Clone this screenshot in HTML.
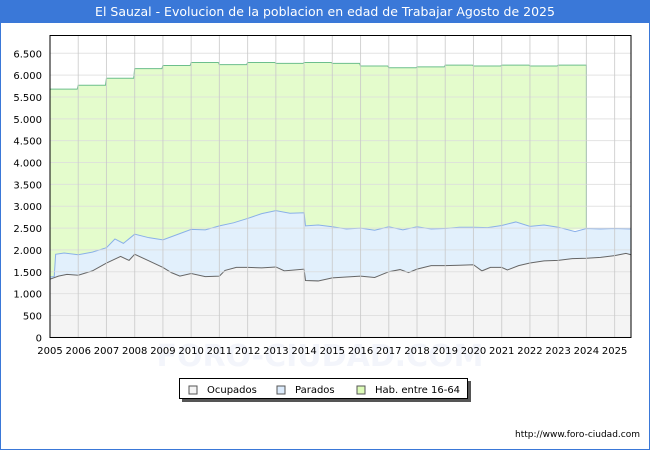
<!DOCTYPE html>
<html><head><meta charset="utf-8"><style>
body{margin:0;width:650px;height:450px;overflow:hidden;background:#fff;font-family:"Liberation Sans","DejaVu Sans",sans-serif}
</style></head><body>
<svg id="c" width="650" height="450" xmlns="http://www.w3.org/2000/svg" font-family="DejaVu Sans, Liberation Sans, sans-serif">
<rect x="0.5" y="0.5" width="649" height="449" fill="#fff" stroke="#3a78d8"/>
<rect x="0" y="0" width="650" height="23" fill="#3a78d8"/>
<text x="325" y="16" text-anchor="middle" fill="#fff" font-size="12.5">El Sauzal - Evolucion de la poblacion en edad de Trabajar Agosto de 2025</text>
<text x="320" y="366" text-anchor="middle" fill="#f3f5fb" font-size="30" font-weight="bold">FORO-CIUDAD.COM</text>
<g id="series"></g>
<g id="grid"></g>
<rect x="50" y="35.5" width="581" height="302" fill="none" stroke="#000"/>
<g id="axes" font-size="10" fill="#000"></g>
<g>
<rect x="182" y="381" width="289" height="21" fill="#555"/>
<rect x="179.5" y="378.5" width="288" height="20" fill="#fff" stroke="#000"/>
<rect x="189" y="386" width="8" height="8" fill="#f4f4f4" stroke="#555"/>
<text x="207" y="393" font-size="10">Ocupados</text>
<rect x="277" y="386" width="8" height="8" fill="#dcebfc" stroke="#555"/>
<text x="295" y="393" font-size="10">Parados</text>
<rect x="357" y="386" width="8" height="8" fill="#ddfcb8" stroke="#555"/>
<text x="375" y="393" font-size="10">Hab. entre 16-64</text>
</g>
<text x="640" y="437" text-anchor="end" font-size="9">http://www.foro-ciudad.com</text>
</svg>
<script>
const yTicks=[0,500,1000,1500,2000,2500,3000,3500,4000,4500,5000,5500,6000,6500];
const yTickLabels=["0","500","1.000","1.500","2.000","2.500","3.000","3.500","4.000","4.500","5.000","5.500","6.000","6.500"];
const years=[2005,2006,2007,2008,2009,2010,2011,2012,2013,2014,2015,2016,2017,2018,2019,2020,2021,2022,2023,2024,2025];
const habYears=[2005,2006,2007,2008,2009,2010,2011,2012,2013,2014,2015,2016,2017,2018,2019,2020,2021,2022,2023];
const habValues=[5680,5770,5930,6150,6220,6290,6240,6290,6270,6290,6270,6210,6170,6190,6230,6210,6230,6210,6230];
const paradosT=[2005,2005.15,2005.2,2005.5,2006,2006.5,2007,2007.3,2007.6,2008,2008.5,2009,2009.5,2010,2010.5,2011,2011.5,2012,2012.5,2013,2013.5,2014,2014.05,2014.5,2015,2015.5,2016,2016.5,2017,2017.5,2018,2018.5,2019,2019.5,2020,2020.5,2021,2021.5,2022,2022.5,2023,2023.6,2024,2024.5,2025,2025.58];
const paradosTotal=[1380,1390,1900,1930,1890,1950,2050,2250,2150,2360,2280,2230,2350,2470,2460,2550,2620,2720,2830,2900,2840,2850,2550,2570,2530,2480,2500,2450,2530,2460,2530,2480,2490,2520,2520,2510,2560,2640,2540,2570,2520,2420,2490,2480,2490,2480];
const ocupT=[2005,2005.3,2005.6,2006,2006.5,2007,2007.5,2007.8,2008,2008.5,2009,2009.3,2009.6,2010,2010.5,2011,2011.2,2011.6,2012,2012.5,2013,2013.3,2014,2014.05,2014.5,2015,2015.5,2016,2016.5,2017,2017.4,2017.7,2018,2018.5,2019,2019.5,2020,2020.3,2020.6,2021,2021.2,2021.6,2022,2022.5,2023,2023.5,2024,2024.5,2025,2025.4,2025.58];
const ocupValues=[1330,1400,1440,1420,1520,1700,1850,1760,1900,1750,1600,1480,1400,1460,1390,1400,1530,1600,1600,1590,1610,1520,1560,1300,1290,1360,1380,1400,1370,1500,1550,1480,1560,1640,1640,1650,1660,1520,1600,1600,1540,1640,1700,1750,1760,1800,1810,1830,1870,1920,1890];
const X0=50,X1=631,T0=2005,T1=2025.58,Y0=337.3,PPU=284/6500;
const xs=t=>X0+(t-T0)/(T1-T0)*(X1-X0);
const ys=v=>Y0-v*PPU;
const NS="http://www.w3.org/2000/svg";
function mk(tag,attrs,parent){const e=document.createElementNS(NS,tag);for(const k in attrs)e.setAttribute(k,attrs[k]);parent.appendChild(e);return e;}
const grid=document.getElementById('grid'),series=document.getElementById('series'),axes=document.getElementById('axes');
yTicks.forEach((v,i)=>{
 const l=mk('line',{x1:X0,x2:X1,y1:ys(v),y2:ys(v),stroke:'#dcdcdc','stroke-opacity':0.8},grid);
 
 
 const t=mk('text',{x:X0-8,y:ys(v)+4,'text-anchor':'end'},axes);t.textContent=yTickLabels[i];
 
 
});
years.forEach(y=>{
 const l=mk('line',{x1:xs(y),x2:xs(y),y1:35.5,y2:Y0,stroke:'#c8c8c8','stroke-opacity':0.8},grid);
 
 
 const t=mk('text',{x:xs(y),y:354,'text-anchor':'middle'},axes);t.textContent=String(y);
 
 
});
let hp=[];habYears.forEach((y,i)=>{hp.push([xs(y),ys(habValues[i])]);const nx=i<habYears.length-1?habYears[i+1]:2024;hp.push([xs(nx)-(i<habYears.length-1?1:0),ys(habValues[i])]);});
const habLine=hp.map(p=>p.join(',')).join(' ');
const last=hp[hp.length-1];
const pTotal=paradosT.map((t,i)=>[xs(t),ys(paradosTotal[i])]);
const habArea=mk('polygon',{points:habLine+' '+last[0]+','+ys(2490)+' '+xs(2005)+','+ys(1380),fill:'#e4fccc',stroke:'none'},series);


const pArea=mk('polygon',{points:pTotal.map(p=>p.join(',')).join(' ')+' '+X1+','+Y0+' '+X0+','+Y0,fill:'#e2f0fc'},series);


const oPts=ocupT.map((t,i)=>[xs(t),ys(ocupValues[i])]);
const oArea=mk('polygon',{points:oPts.map(p=>p.join(',')).join(' ')+' '+X1+','+Y0+' '+X0+','+Y0,fill:'#f4f4f4'},series);


const hl=mk('polyline',{points:habLine+' '+last[0]+','+ys(2490),fill:'none',stroke:'#6cbf8c','stroke-width':1},series);


const pl=mk('polyline',{points:pTotal.map(p=>p.join(',')).join(' '),fill:'none',stroke:'#8ab0e8','stroke-width':1},series);


const ol=mk('polyline',{points:oPts.map(p=>p.join(',')).join(' '),fill:'none',stroke:'#666','stroke-width':1},series);


</script>
</body></html>
